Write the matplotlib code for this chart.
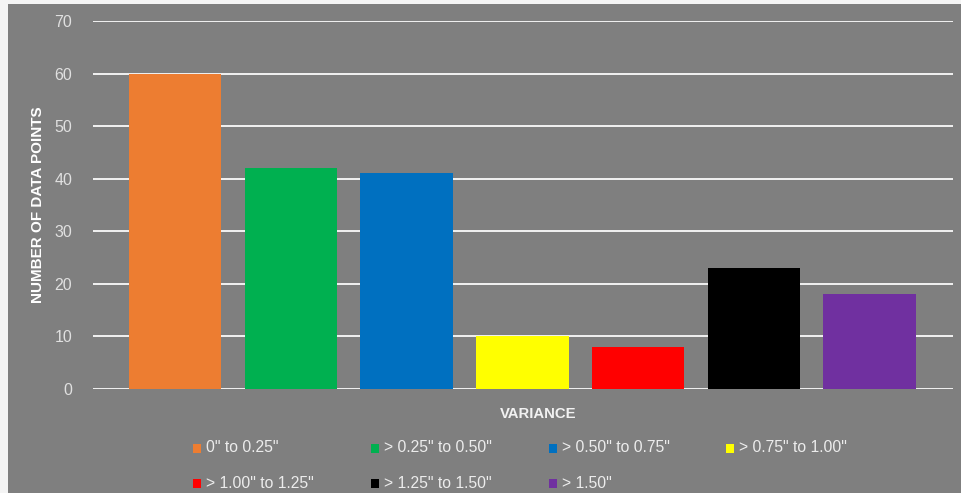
import matplotlib

matplotlib.use("Agg")
import matplotlib.pyplot as plt
from matplotlib.patches import Rectangle

# ── Данные ──
categories = ['0" to 0.25"', '> 0.25" to 0.50"', '> 0.50" to 0.75"', '> 0.75" to 1.00"',
              '> 1.00" to 1.25"', '> 1.25" to 1.50"', '> 1.50"']
counts = [60, 42, 41, 10, 8, 23, 18]
colors = ["#ed7d31", "#00b050", "#0070c0", "#ffff00", "#ff0000", "#000000", "#7030a0"]
y_ticks = [0, 10, 20, 30, 40, 50, 60, 70]

BG = "#7f7f7f"
W, H = 961, 493
plt.rcParams.update({
    "font.family": ["Liberation Sans", "DejaVu Sans"],
    "font.size": 11,
})

fig = plt.figure(figsize=(W / 100, H / 100), dpi=100, facecolor=BG)

# светлая рамка слева и сверху (как на скриншоте)
fig.patches.append(Rectangle((0, 0), 8 / W, 1, transform=fig.transFigure,
                             facecolor="#f4f4f4", edgecolor="none"))
fig.patches.append(Rectangle((0, 1 - 4 / H), 1, 4 / H, transform=fig.transFigure,
                             facecolor="#f4f4f4", edgecolor="none"))

ax = fig.add_axes([93 / W, (H - 389) / H, (953 - 93) / W, (389 - 21) / H])
ax.set_facecolor(BG)

x = range(len(categories))
ax.bar(x, counts, width=0.8, color=colors, zorder=3)

ax.set_ylim(0, 70)
ax.set_xlim(-0.71, 6.72)
ax.set_yticks(y_ticks)
ax.set_yticklabels([str(t) for t in y_ticks], color="#e0e0e0", fontsize=11.5)
ax.set_xticks([])
ax.tick_params(axis="y", length=0, pad=15)
ax.grid(axis="y", color="#f2f2f2", linewidth=1.4, zorder=0)
for s in ax.spines.values():
    s.set_visible(False)

fig.text(38 / W, 1 - 205 / H, "NUMBER OF DATA POINTS", rotation=90, ha="center", va="center",
         color="white", fontsize=11, fontweight="bold")
fig.text(538 / W, 1 - 414 / H, "VARIANCE", ha="center", va="center",
         color="#f2f2f2", fontsize=10.7, fontweight="bold")

# ── Легенда ──
col_x = [193, 371, 549, 726]
row_y = [448, 483]
for i, (label, c) in enumerate(zip(categories, colors)):
    px = col_x[i % 4]
    py = row_y[i // 4]
    fig.patches.append(Rectangle((px / W, 1 - (py + 4.5) / H), 8 / W, 9 / H,
                                 transform=fig.transFigure, facecolor=c, edgecolor="none"))
    fig.text((px + 13) / W, 1 - py / H, label, ha="left", va="center",
             color="#ececec", fontsize=11.3)

fig.savefig("out.png", dpi=100, facecolor=BG)
plt.close(fig)
